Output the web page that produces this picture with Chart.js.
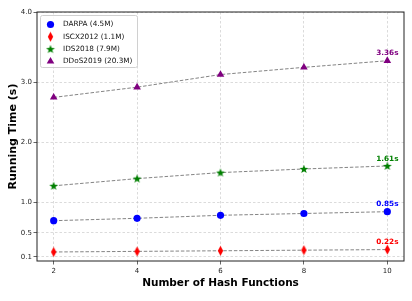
<!DOCTYPE html>
<html lang="en">
<head>
  <meta charset="UTF-8">
  <title>Running Time vs Number of Hash Functions</title>
  <script src="https://cdn.jsdelivr.net/npm/chart.js"></script>
  <style>
    body { margin: 0; background: #fff; }
    canvas { display: block; }
  </style>
</head>
<body>
<canvas id="myChart" width="412" height="301"></canvas>

<script>
// ---- data ----
const hashCounts = [2, 4, 6, 8, 10];
const darpaTimes = [0.70, 0.74, 0.79, 0.82, 0.85];
const iscxTimes  = [0.18, 0.19, 0.20, 0.21, 0.22];
const idsTimes   = [1.28, 1.40, 1.50, 1.56, 1.61];
const ddosTimes  = [2.75, 2.92, 3.13, 3.25, 3.36];

const seriesLabels = ['DARPA (4.5M)', 'ISCX2012 (1.1M)', 'IDS2018 (7.9M)', 'DDoS2019 (20.3M)'];
const xTicks = [2, 4, 6, 8, 10];
const yTickValues = [0.1, 0.5, 1.0, 2.0, 3.0, 4.17];
const yTickLabels = ['0.1', '0.5', '1.0', '2.0', '3.0', '4.0'];

const FONT = "'DejaVu Sans', sans-serif";

// custom marker canvases (matplotlib style star and thin diamond)
function makeMarker(w, h, color, drawFn) {
  const c = document.createElement('canvas');
  c.width = w; c.height = h;
  const g = c.getContext('2d');
  g.fillStyle = color;
  drawFn(g, w, h);
  return c;
}
const starMarker = makeMarker(10, 10, 'green', (g, w, h) => {
  const cx = w / 2, cy = h / 2 + 0.4, R = 4.6, r = 1.9;
  g.beginPath();
  for (let i = 0; i < 10; i++) {
    const a = -Math.PI / 2 + i * Math.PI / 5;
    const rad = i % 2 === 0 ? R : r;
    g.lineTo(cx + rad * Math.cos(a), cy + rad * Math.sin(a));
  }
  g.closePath();
  g.fill();
});
const diamondMarker = makeMarker(7, 11, 'red', (g, w, h) => {
  g.beginPath();
  g.moveTo(w / 2, 0.5);
  g.lineTo(w - 0.8, h / 2);
  g.lineTo(w / 2, h - 0.5);
  g.lineTo(0.8, h / 2);
  g.closePath();
  g.fill();
});

function pts(ys) { return hashCounts.map((x, i) => ({ x, y: ys[i] })); }

const lineStyle = {
  borderColor: 'rgba(110,110,110,0.85)',
  borderWidth: 1,
  borderDash: [3.5, 1.8],
  showLine: true,
  tension: 0,
  fill: false
};

const seriesColors = ['#0000ff', '#ff0000', 'green', 'purple'];

// frame like matplotlib spines
const framePlugin = {
  id: 'frame',
  afterDatasetsDraw(chart) {
    const { ctx, chartArea: a } = chart;
    ctx.save();
    ctx.strokeStyle = '#222';
    ctx.lineWidth = 1;
    ctx.strokeRect(a.left, a.top, a.right - a.left, a.bottom - a.top);
    ctx.restore();
  }
};

// value labels at the last point of each series
const endLabelPlugin = {
  id: 'endLabels',
  afterDatasetsDraw(chart) {
    const ctx = chart.ctx;
    ctx.save();
    ctx.font = "bold 7.3px " + FONT;
    ctx.textAlign = 'center';
    ctx.textBaseline = 'bottom';
    chart.data.datasets.forEach((ds, i) => {
      const meta = chart.getDatasetMeta(i);
      const last = meta.data[meta.data.length - 1];
      const v = ds.data[ds.data.length - 1].y;
      ctx.fillStyle = seriesColors[i];
      ctx.fillText(v.toFixed(2) + 's', last.x, last.y - 3.5);
    });
    ctx.restore();
  }
};

// legend box in upper-left of plot area
const legendPlugin = {
  id: 'boxLegend',
  afterDraw(chart) {
    const { ctx, chartArea: a } = chart;
    const x = a.left + 3, y = a.top + 3, w = 97, h = 52;
    ctx.save();
    ctx.fillStyle = 'rgba(255,255,255,0.85)';
    ctx.strokeStyle = '#d0d0d0';
    ctx.lineWidth = 1;
    ctx.beginPath();
    ctx.roundRect(x + 0.5, y + 0.5, w, h, 2);
    ctx.fill();
    ctx.stroke();
    ctx.font = "7.3px " + FONT;
    ctx.textBaseline = 'middle';
    chart.data.datasets.forEach((ds, i) => {
      const ry = y + 9.5 + i * 12.3;
      ctx.fillStyle = seriesColors[i];
      Chart.helpers.drawPoint(ctx, {
        pointStyle: ds.pointStyle,
        radius: ds.pointRadius,
        rotation: 0,
        borderWidth: 0
      }, x + 10.5, ry);
      ctx.fillStyle = '#111';
      ctx.fillText(seriesLabels[i], x + 23, ry);
    });
    ctx.restore();
  }
};

new Chart(document.getElementById('myChart').getContext('2d'), {
  type: 'scatter',
  data: {
    datasets: [
      { label: seriesLabels[0], data: pts(darpaTimes), pointStyle: 'circle', pointRadius: 3.6,
        backgroundColor: seriesColors[0], pointBorderWidth: 0, ...lineStyle },
      { label: seriesLabels[1], data: pts(iscxTimes), pointStyle: diamondMarker, pointRadius: 4,
        backgroundColor: seriesColors[1], pointBorderWidth: 0, ...lineStyle },
      { label: seriesLabels[2], data: pts(idsTimes), pointStyle: starMarker, pointRadius: 4,
        backgroundColor: seriesColors[2], pointBorderWidth: 0, ...lineStyle },
      { label: seriesLabels[3], data: pts(ddosTimes), pointStyle: 'triangle', pointRadius: 4.4,
        backgroundColor: seriesColors[3], pointBorderWidth: 0, ...lineStyle }
    ]
  },
  options: {
    responsive: false,
    animation: false,
    layout: { padding: { top: 12, right: 8, left: 0, bottom: 0 } },
    plugins: {
      legend: { display: false },
      tooltip: { enabled: false }
    },
    scales: {
      x: {
        type: 'linear',
        min: 1.6,
        max: 10.4,
        afterBuildTicks: s => { s.ticks = xTicks.map(v => ({ value: v })); },
        afterFit: s => { s.height = 40; },
        ticks: { font: { family: FONT, size: 7 }, color: '#222', padding: 2 },
        grid: { color: 'rgba(190,190,190,0.8)', lineWidth: 0.7, tickLength: 3.5, tickColor: '#222', tickBorderDash: [], drawTicks: true },
        border: { display: false, dash: [2.5, 2] },
        title: { display: true, text: 'Number of Hash Functions', font: { family: FONT, size: 10.5, weight: 'bold' }, color: '#000', padding: { top: 0, bottom: 11 } }
      },
      y: {
        type: 'linear',
        min: 0.03,
        max: 4.17,
        afterBuildTicks: s => { s.ticks = yTickValues.map(v => ({ value: v })); },
        afterFit: s => { s.width = 37; },
        ticks: {
          font: { family: FONT, size: 7 }, color: '#222', padding: 1.5,
          callback: (v) => { const k = yTickValues.indexOf(v); return k >= 0 ? yTickLabels[k] : ''; }
        },
        grid: { color: 'rgba(190,190,190,0.8)', lineWidth: 0.7, tickLength: 3.5, tickColor: '#222', tickBorderDash: [], drawTicks: true },
        border: { display: false, dash: [2.5, 2] },
        title: { display: true, text: 'Running Time (s)', font: { family: FONT, size: 11, weight: 'bold' }, color: '#000', padding: { top: 7, bottom: 0 } }
      }
    }
  },
  plugins: [framePlugin, endLabelPlugin, legendPlugin]
});
</script>
</body>
</html>
